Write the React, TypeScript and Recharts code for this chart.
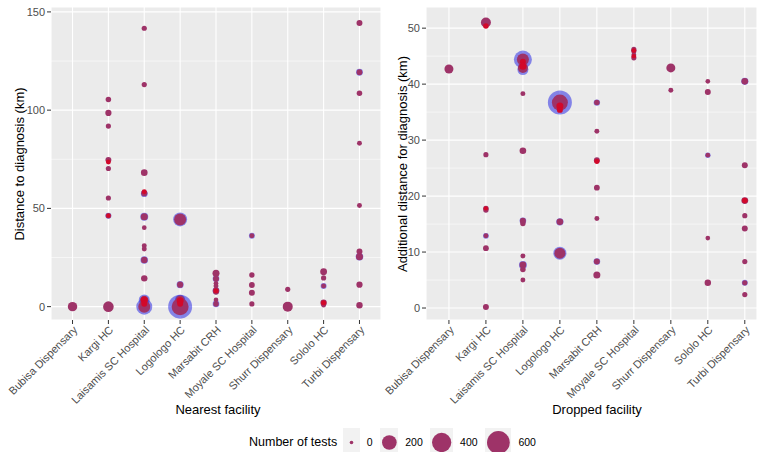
import React from 'react';
import { ScatterChart, Scatter, XAxis, YAxis, CartesianGrid } from 'recharts';

const facilities = [
  'Bubisa Dispensary',
  'Kargi HC',
  'Laisamis SC Hospital',
  'Logologo HC',
  'Marsabit CRH',
  'Moyale SC Hospital',
  'Shurr Dispensary',
  'Sololo HC',
  'Turbi Dispensary',
];

// [facility, km, number of tests]
type Pt = [string, number, number];

// nearest facility panel
const nearestPoints: Pt[] = [
  ['Bubisa Dispensary', 0, 55],
  ['Kargi HC', 105.4, 6], ['Kargi HC', 98.6, 11], ['Kargi HC', 91.9, 4], ['Kargi HC', 74.7, 9],
  ['Kargi HC', 70.3, 4], ['Kargi HC', 55.3, 4], ['Kargi HC', 46.3, 6], ['Kargi HC', 0, 80],
  ['Laisamis SC Hospital', 141.7, 4], ['Laisamis SC Hospital', 113, 4], ['Laisamis SC Hospital', 68.2, 15],
  ['Laisamis SC Hospital', 57.7, 11], ['Laisamis SC Hospital', 45.8, 19], ['Laisamis SC Hospital', 40.2, 2],
  ['Laisamis SC Hospital', 31, 3], ['Laisamis SC Hospital', 29.3, 3], ['Laisamis SC Hospital', 23.7, 13],
  ['Laisamis SC Hospital', 14.4, 13], ['Laisamis SC Hospital', 3.4, 37], ['Laisamis SC Hospital', 0, 115],
  ['Logologo HC', 44.4, 115], ['Logologo HC', 11.2, 11], ['Logologo HC', 3.4, 47], ['Logologo HC', 0, 292],
  ['Marsabit CRH', 17, 19], ['Marsabit CRH', 14.2, 9], ['Marsabit CRH', 11.9, 2], ['Marsabit CRH', 10.5, 3],
  ['Marsabit CRH', 8.1, 13], ['Marsabit CRH', 7.5, 6], ['Marsabit CRH', 3.4, 2], ['Marsabit CRH', 1.4, 6],
  ['Moyale SC Hospital', 36.1, 3], ['Moyale SC Hospital', 16.1, 5], ['Moyale SC Hospital', 11, 8],
  ['Moyale SC Hospital', 7.1, 9], ['Moyale SC Hospital', 1.4, 4],
  ['Shurr Dispensary', 8.8, 4], ['Shurr Dispensary', 0, 67],
  ['Sololo HC', 17.8, 17], ['Sololo HC', 14.6, 4], ['Sololo HC', 10.5, 3], ['Sololo HC', 2, 13], ['Sololo HC', 0.7, 2],
  ['Turbi Dispensary', 144.4, 9], ['Turbi Dispensary', 119.3, 8], ['Turbi Dispensary', 108.6, 6],
  ['Turbi Dispensary', 83.2, 3], ['Turbi Dispensary', 51.5, 3], ['Turbi Dispensary', 28.1, 9],
  ['Turbi Dispensary', 25.4, 19], ['Turbi Dispensary', 11.2, 11], ['Turbi Dispensary', 0.7, 13],
];

const nearestHalo: Pt[] = [
  ['Kargi HC', 46.3, 9],
  ['Laisamis SC Hospital', 57.5, 17], ['Laisamis SC Hospital', 45.8, 31], ['Laisamis SC Hospital', 23.7, 26],
  ['Laisamis SC Hospital', 3.4, 89], ['Laisamis SC Hospital', 0, 250],
  ['Logologo HC', 44.4, 176], ['Logologo HC', 11.2, 19], ['Logologo HC', 3.4, 75], ['Logologo HC', 0, 677],
  ['Marsabit CRH', 14.2, 15], ['Marsabit CRH', 8.1, 17], ['Marsabit CRH', 1.4, 15],
  ['Moyale SC Hospital', 36.1, 9],
  ['Sololo HC', 10.5, 9],
  ['Turbi Dispensary', 119.3, 17], ['Turbi Dispensary', 25.4, 26],
];

const nearestCore: Pt[] = [
  ['Kargi HC', 73.6, 3], ['Kargi HC', 46.3, 1],
  ['Laisamis SC Hospital', 58.5, 3], ['Laisamis SC Hospital', 3.4, 19], ['Laisamis SC Hospital', 1.5, 9],
  ['Logologo HC', 3, 19], ['Logologo HC', 1.5, 9],
  ['Marsabit CRH', 8.1, 4],
  ['Sololo HC', 2, 4],
];

// dropped facility panel
const droppedPoints: Pt[] = [
  ['Bubisa Dispensary', 42.7, 47],
  ['Kargi HC', 51, 67], ['Kargi HC', 27.4, 4], ['Kargi HC', 17.8, 6], ['Kargi HC', 17.5, 5],
  ['Kargi HC', 12.9, 3], ['Kargi HC', 10.7, 8], ['Kargi HC', 0.2, 9],
  ['Laisamis SC Hospital', 44.4, 115], ['Laisamis SC Hospital', 42.9, 67], ['Laisamis SC Hospital', 38.3, 3],
  ['Laisamis SC Hospital', 28.1, 15], ['Laisamis SC Hospital', 15.6, 9], ['Laisamis SC Hospital', 15.1, 5],
  ['Laisamis SC Hospital', 9.3, 3], ['Laisamis SC Hospital', 7.7, 15], ['Laisamis SC Hospital', 6.9, 6],
  ['Laisamis SC Hospital', 5, 3],
  ['Logologo HC', 36.7, 250], ['Logologo HC', 15.4, 15], ['Logologo HC', 9.8, 89],
  ['Marsabit CRH', 36.7, 6], ['Marsabit CRH', 31.6, 3], ['Marsabit CRH', 26.4, 9], ['Marsabit CRH', 21.5, 8],
  ['Marsabit CRH', 16, 3], ['Marsabit CRH', 8.3, 9], ['Marsabit CRH', 5.9, 19],
  ['Moyale SC Hospital', 46.2, 4], ['Moyale SC Hospital', 45.9, 4], ['Moyale SC Hospital', 45.2, 3],
  ['Moyale SC Hospital', 44.7, 4],
  ['Shurr Dispensary', 42.9, 47], ['Shurr Dispensary', 38.9, 3],
  ['Sololo HC', 40.5, 2], ['Sololo HC', 38.6, 9], ['Sololo HC', 27.3, 2], ['Sololo HC', 12.5, 2], ['Sololo HC', 4.5, 13],
  ['Turbi Dispensary', 40.5, 15], ['Turbi Dispensary', 25.5, 9], ['Turbi Dispensary', 19.2, 17],
  ['Turbi Dispensary', 16.5, 4], ['Turbi Dispensary', 14.2, 9], ['Turbi Dispensary', 8.3, 4],
  ['Turbi Dispensary', 4.5, 4], ['Turbi Dispensary', 2.4, 4],
];

const droppedHalo: Pt[] = [
  ['Kargi HC', 12.9, 8],
  ['Laisamis SC Hospital', 44.4, 337], ['Laisamis SC Hospital', 42.6, 89], ['Laisamis SC Hospital', 15.6, 15],
  ['Laisamis SC Hospital', 7.7, 31],
  ['Logologo HC', 36.7, 677], ['Logologo HC', 15.4, 23], ['Logologo HC', 9.8, 144],
  ['Marsabit CRH', 36.7, 13], ['Marsabit CRH', 8.3, 15],
  ['Sololo HC', 27.3, 6],
  ['Turbi Dispensary', 40.5, 21], ['Turbi Dispensary', 4.5, 9],
];

const droppedCore: Pt[] = [
  ['Kargi HC', 50.4, 6], ['Kargi HC', 17.8, 1],
  ['Laisamis SC Hospital', 44, 9], ['Laisamis SC Hospital', 43.2, 19],
  ['Logologo HC', 36.1, 19], ['Logologo HC', 35.4, 9],
  ['Marsabit CRH', 26.2, 4],
  ['Moyale SC Hospital', 46, 2], ['Moyale SC Hospital', 45, 1],
  ['Turbi Dispensary', 19.2, 6],
];

const nearestTicks = [0, 50, 100, 150];
const nearestMinor = [25, 75, 125];
const droppedTicks = [0, 10, 20, 30, 40, 50];
const droppedMinor = [5, 15, 25, 35, 45];
const legendTests = [0, 200, 400, 600];

const FONT = '"Liberation Sans", Arial, sans-serif';
const PURPLE = '#9E3368';

const toRows = (pts: Pt[]) =>
  pts.map(([facility, km, tests]) => ({ x: facilities.indexOf(facility), km, tests }));

const radius = (n: number) => 1.8 + 9.6 * Math.sqrt(n / 600);

const dot = (fill: string, opacity: number) => (props: any) => {
  const { cx, cy, payload } = props;
  if (cx == null || cy == null) return <g />;
  return <circle cx={cx} cy={cy} r={radius(payload.tests)} fill={fill} fillOpacity={opacity} />;
};

const FacilityTick = (props: any) => {
  const { x, y, payload } = props;
  return (
    <text
      transform={`translate(${x},${y - 1}) rotate(-45)`}
      textAnchor="end"
      dy="0.72em"
      fontSize={11}
      fill="#4D4D4D"
      fontFamily={FONT}
    >
      {facilities[payload.value]}
    </text>
  );
};

function Panel(props: {
  width: number;
  yWidth: number;
  xDomain: [number, number];
  yDomain: [number, number];
  ticks: number[];
  minor: number[];
  halo: Pt[];
  main: Pt[];
  core: Pt[];
}) {
  const { width, yWidth, xDomain, yDomain, ticks, minor, halo, main, core } = props;
  // minor gridlines between the major y ticks
  const minorLines = (arg: any) => {
    const scale = arg?.yAxis?.scale;
    if (typeof scale === 'function') return minor.map((v) => scale(v));
    const top = arg?.offset?.top ?? 7;
    const h = arg?.offset?.height ?? 313;
    return minor.map((v) => top + (h * (yDomain[1] - v)) / (yDomain[1] - yDomain[0]));
  };
  return (
    <ScatterChart width={width} height={452} margin={{ top: 7, right: 0, bottom: 0, left: 0 }}>
      <CartesianGrid
        fill="#EBEBEB"
        stroke="#FFFFFF"
        strokeWidth={0.55}
        vertical={false}
        horizontalCoordinatesGenerator={minorLines}
      />
      <CartesianGrid fill="none" stroke="#FFFFFF" strokeWidth={1.1} />
      <XAxis
        type="number"
        dataKey="x"
        domain={xDomain}
        ticks={facilities.map((_, i) => i)}
        interval={0}
        allowDataOverflow
        axisLine={false}
        tickLine={{ stroke: '#333333' }}
        tickSize={4}
        height={132}
        tick={<FacilityTick />}
      />
      <YAxis
        type="number"
        dataKey="km"
        domain={yDomain}
        ticks={ticks}
        interval={0}
        allowDataOverflow
        width={yWidth}
        axisLine={false}
        tickLine={{ stroke: '#333333' }}
        tickSize={4}
        tickMargin={2}
        tick={{ fill: '#4D4D4D', fontSize: 11, fontFamily: FONT }}
      />
      <Scatter data={toRows(halo)} shape={dot('#2424E4', 0.52)} isAnimationActive={false} />
      <Scatter data={toRows(main)} shape={dot(PURPLE, 1)} isAnimationActive={false} />
      <Scatter data={toRows(core)} shape={dot('#D2082A', 1)} isAnimationActive={false} />
    </ScatterChart>
  );
}

const abs = (style: React.CSSProperties): React.CSSProperties => ({ position: 'absolute', ...style });

export default function App() {
  return (
    <div
      style={{
        position: 'fixed',
        left: 0,
        top: 0,
        width: 757,
        height: 452,
        overflow: 'hidden',
        background: '#FFFFFF',
        fontFamily: FONT,
        color: '#000',
      }}
    >
      <div style={abs({ left: 0, top: 0 })}>
        <Panel
          width={381}
          yWidth={51}
          xDomain={[-0.6, 8.6]}
          yDomain={[-6.8, 152.5]}
          ticks={nearestTicks}
          minor={nearestMinor}
          halo={nearestHalo}
          main={nearestPoints}
          core={nearestCore}
        />
      </div>
      <div style={abs({ left: 381, top: 0 })}>
        <Panel
          width={376}
          yWidth={45}
          xDomain={[-0.62, 8.33]}
          yDomain={[-2.14, 53.78]}
          ticks={droppedTicks}
          minor={droppedMinor}
          halo={droppedHalo}
          main={droppedPoints}
          core={droppedCore}
        />
      </div>

      <div style={abs({ left: 19, top: 163.5, transform: 'translate(-50%,-50%) rotate(-90deg)', whiteSpace: 'nowrap', fontSize: 13 })}>
        Distance to diagnosis (km)
      </div>
      <div style={abs({ left: 402, top: 163.5, transform: 'translate(-50%,-50%) rotate(-90deg)', whiteSpace: 'nowrap', fontSize: 13 })}>
        Additional distance for diagnosis (km)
      </div>
      <div style={abs({ left: 218, top: 409, transform: 'translate(-50%,-50%)', whiteSpace: 'nowrap', fontSize: 13 })}>
        Nearest facility
      </div>
      <div style={abs({ left: 597, top: 409, transform: 'translate(-50%,-50%)', whiteSpace: 'nowrap', fontSize: 13 })}>
        Dropped facility
      </div>

      <div style={abs({ left: 249, top: 427.5, height: 29, display: 'flex', alignItems: 'center', whiteSpace: 'nowrap' })}>
        <span style={{ fontSize: 12.5, marginRight: 5.5 }}>Number of tests</span>
        {legendTests.map((n) => {
          const r = radius(n);
          const w = Math.max(17, 2 * r + 4);
          return (
            <React.Fragment key={n}>
              <svg width={w} height={29} style={{ background: '#F2F2F2', display: 'block' }}>
                <circle cx={w / 2} cy={14.5} r={r} fill={PURPLE} />
              </svg>
              <span style={{ fontSize: 10.5, marginLeft: 7, marginRight: 7 }}>{n}</span>
            </React.Fragment>
          );
        })}
      </div>
    </div>
  );
}
